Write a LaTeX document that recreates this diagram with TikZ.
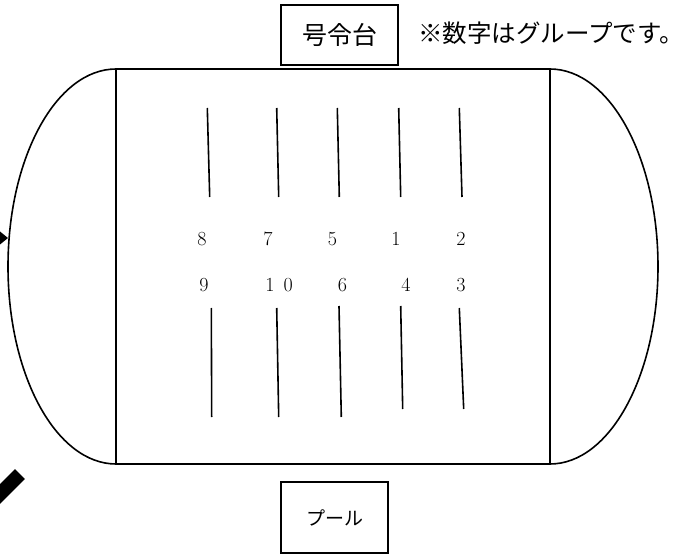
\documentclass[tikz,border=0pt]{standalone}
\usepackage{fontspec}
\newfontfamily\jpfont{Noto Sans CJK JP}
\usetikzlibrary{calc}
\newcommand{\lanewidth}{1.6pt}
\tikzset{
    outline/.style={draw, line width=1.6pt},
    lane/.style={draw, line width=\lanewidth},
    signbox/.style={draw, line width=1.6pt, rectangle, inner sep=0pt},
    group/.style={inner sep=0pt, font=\fontsize{20}{20}\selectfont},
    note/.style={anchor=west, inner sep=0pt, font=\jpfont\fontsize{24.5}{24.5}\selectfont}
}
\begin{document}
\begin{tikzpicture}[x=1pt, y=-1pt]
    \useasboundingbox (0,0) rectangle (683,556);
    \clip (0,0) rectangle (683,556);

    % pool
    \coordinate (pool-nw) at (116,69);
    \coordinate (pool-ne) at (550,69);
    \coordinate (pool-se) at (550,464);
    \draw[outline] (pool-nw) rectangle (pool-se);
    \draw[outline] (pool-nw) arc[start angle=90, end angle=270, x radius=108pt, y radius=197.5pt];
    \draw[outline] (pool-ne) arc[start angle=90, end angle=-90, x radius=108pt, y radius=197.5pt];

    % lanes
    \foreach \xa/\ya/\xb/\yb in {207.3/108/209.7/197, 276.7/108/278.7/197, 337.3/108/339.3/197,
                                 398.7/108/400.7/197, 459.3/108/462/197,
                                 211.3/308/211.7/417, 276.7/308/278.7/417, 339/306/341.3/417,
                                 400.7/306/402.7/409, 459.3/308/463.7/409}
        \draw[lane] (\xa,\ya) -- (\xb,\yb);

    % groups
    \node[group] (g8) at (202,239) {8};
    \node[group] (g7) at (268,239) {7};
    \node[group] (g5) at (332.5,239) {5};
    \node[group] (g1) at (396,239) {1};
    \node[group] (g2) at (461,239) {2};
    \node[group] (g9) at (204,285) {9};
    \node[group] (g10) at (279,285) {1\hspace{9pt}0};
    \node[group] (g6) at (342.5,285) {6};
    \node[group] (g4) at (406,285) {4};
    \node[group] (g3) at (461,285) {3};

    % signs
    \node[signbox, minimum width=117pt, minimum height=60pt,
          font=\jpfont\fontsize{25}{25}\selectfont] (stand) at (339.5,35) {号令台};
    \node[note] (stand-note) at (418,33) {※数字はグループです。};
    \node[signbox, minimum width=107pt, minimum height=71pt,
          font=\jpfont\fontsize{19}{19}\selectfont] (pool-sign) at (334.5,517.5) {プール};

    % arrows coming in from the left
    \coordinate (arrow-tip) at (8,238);
    \fill (arrow-tip) -- (-8,225) -- (-8,251) -- cycle;
    \coordinate (bar-end) at (20,474);
    \draw[line width=14pt] (bar-end) -- (-20,514);
\end{tikzpicture}
\end{document}
